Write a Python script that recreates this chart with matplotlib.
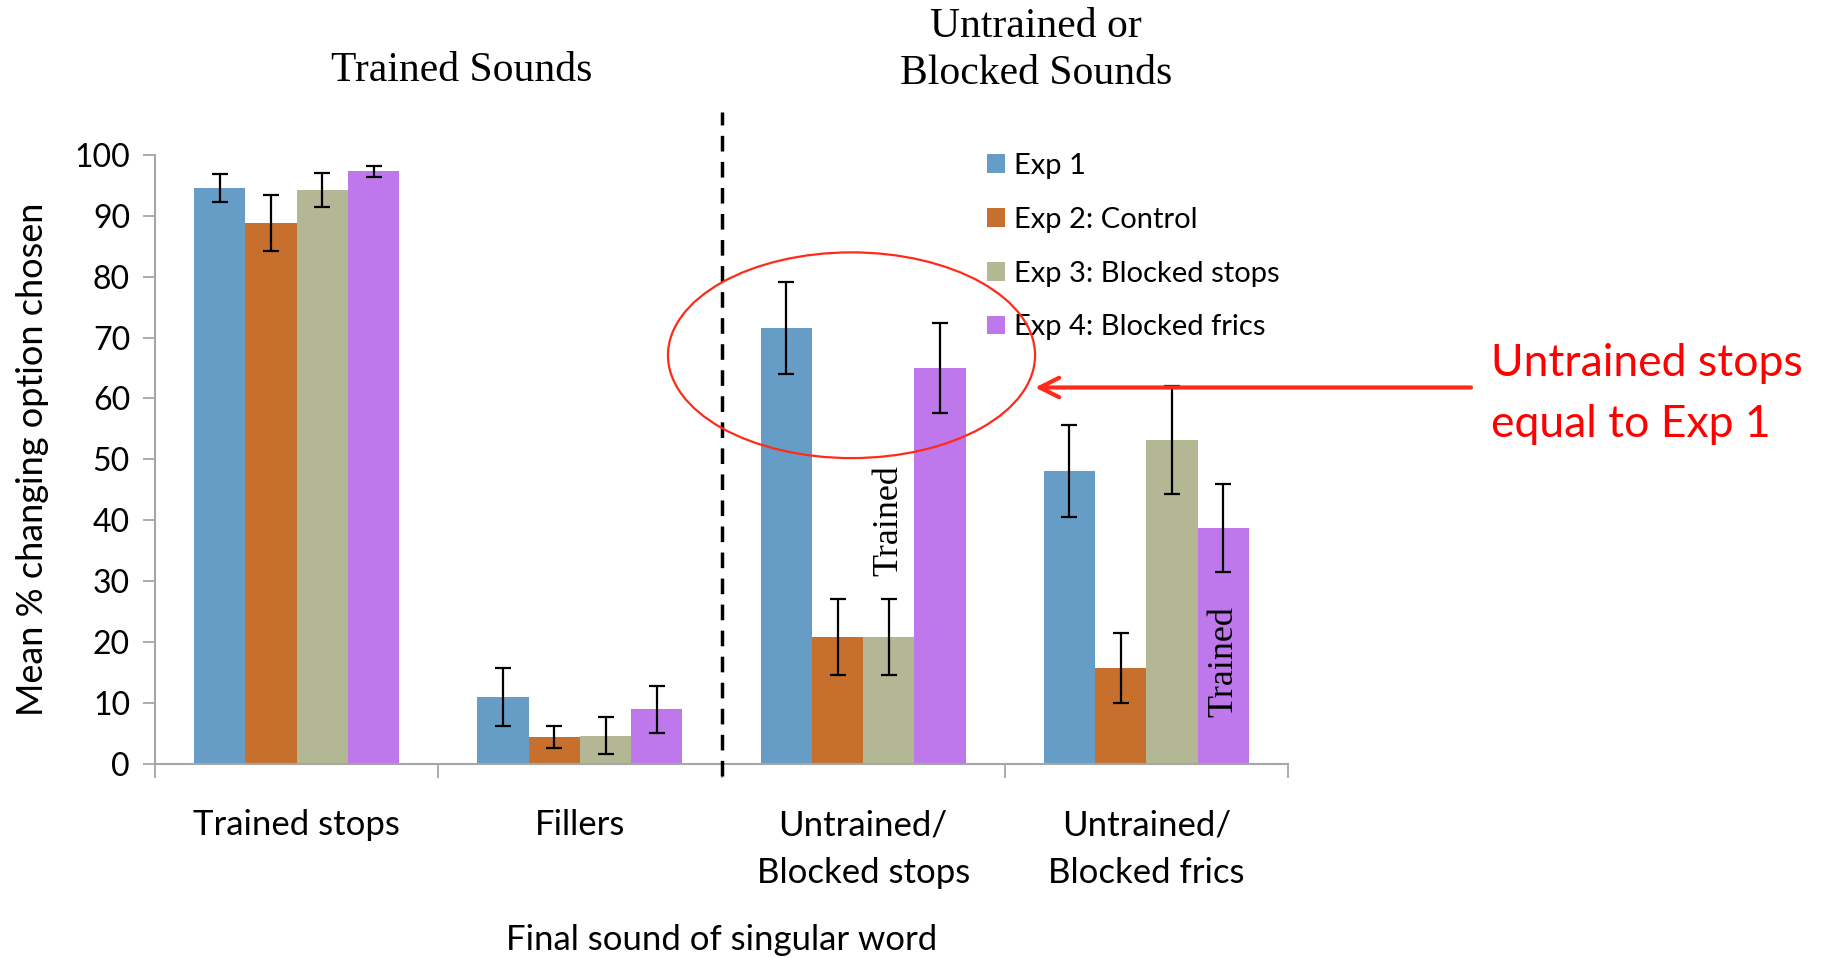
import matplotlib
matplotlib.use("Agg")
import matplotlib.pyplot as plt
import numpy as np
from matplotlib.patches import Ellipse, Patch

# ---- data ----
categories = ["Trained stops", "Fillers", "Untrained/\nBlocked stops", "Untrained/\nBlocked frics"]
series = ["Exp 1", "Exp 2: Control", "Exp 3: Blocked stops", "Exp 4: Blocked frics"]
exp1 = [94.6, 10.9, 71.6, 48.1]
exp2 = [88.9, 4.4, 20.8, 15.7]
exp3 = [94.3, 4.6, 20.8, 53.2]
exp4 = [97.3, 8.9, 65.0, 38.7]
exp1_err = [2.3, 4.8, 7.6, 7.6]
exp2_err = [4.6, 1.8, 6.3, 5.7]
exp3_err = [2.8, 3.0, 6.2, 8.9]
exp4_err = [0.9, 3.8, 7.4, 7.2]
yticks = list(range(0, 101, 10))

means = [exp1, exp2, exp3, exp4]
errs = [exp1_err, exp2_err, exp3_err, exp4_err]
colors = ["#669DC6", "#C76F2D", "#B3B793", "#BE78EB"]

plt.rcParams["font.family"] = ["Lato", "DejaVu Sans"]

fig = plt.figure(figsize=(18.28, 9.58), dpi=100)
ax = fig.add_axes([0.0848, 0.2029, 0.6198, 0.6353])

x = np.arange(len(categories))
bw = 0.181
offsets = (np.arange(4) - 1.5) * bw
for i in range(4):
    ax.bar(x + offsets[i], means[i], width=bw, color=colors[i], zorder=2)
    ax.errorbar(x + offsets[i], means[i], yerr=errs[i], fmt="none",
                ecolor="black", elinewidth=1.6, capsize=5.5, capthick=1.6, zorder=3)

ax.set_xlim(-0.5, 3.5)
ax.set_ylim(0, 100)
ax.set_yticks(yticks)
ax.set_yticklabels([str(t) for t in yticks], fontsize=23)
ax.set_xticks(x)
ax.set_xticklabels(categories, fontsize=25, linespacing=1.6)
ax.set_xticks(np.arange(-0.5, 3.6, 1.0), minor=True)
ax.tick_params(axis="x", which="major", length=0, pad=33)
ax.tick_params(axis="x", which="minor", length=10, width=1.3, color="#A6A6A6", direction="out")
ax.tick_params(axis="y", length=9, width=1.3, color="#A6A6A6", direction="out", pad=9)
for s in ["top", "right"]:
    ax.spines[s].set_visible(False)
for s in ["left", "bottom"]:
    ax.spines[s].set_color("#A6A6A6")
    ax.spines[s].set_linewidth(1.5)

ax.set_ylabel("Mean % changing option chosen", fontsize=26, labelpad=18)
ax.set_xlabel("Final sound of singular word", fontsize=25, labelpad=25)

# divider between trained and untrained sounds
ax.plot([1.5, 1.5], [-2, 107], color="black", lw=2.5, ls=(0, (4.5, 3)),
        clip_on=False, zorder=4)

# section headings
ax.text(0.584, 113.8, "Trained Sounds", ha="center", va="center",
        fontsize=30, family="Liberation Serif", clip_on=False)
ax.text(2.61, 117.2, "Untrained or\nBlocked Sounds", ha="center", va="center",
        fontsize=30, family="Liberation Serif", linespacing=1.3, clip_on=False)

# "Trained" markers over bars
ax.text(2.09, 39.9, "Trained", rotation=90, ha="center", va="center",
        fontsize=26, family="Liberation Serif", zorder=5)
ax.text(3.274, 16.7, "Trained", rotation=90, ha="center", va="center",
        fontsize=26, family="Liberation Serif", zorder=5)

# legend
handles = [Patch(facecolor=c, edgecolor="none") for c in colors]
leg = ax.legend(handles, series, loc="upper left", bbox_to_anchor=(2.437, 100.3),
                bbox_transform=ax.transData, frameon=False, fontsize=21,
                handlelength=0.62, handleheight=0.62, handletextpad=0.3,
                labelspacing=0.95, borderaxespad=0, borderpad=0)

# highlight around untrained stops
ell = Ellipse((1.959, 67.1), 1.296, 33.8, fill=False, edgecolor="#FF2A1A",
              lw=1.6, clip_on=False, zorder=6)
ax.add_patch(ell)
ax.annotate("", xy=(2.607, 61.8), xytext=(4.146, 61.8),
            arrowprops=dict(arrowstyle="->", color="#FF2A1A", lw=3,
                            mutation_scale=35, shrinkA=0, shrinkB=0),
            annotation_clip=False, zorder=6)
ax.text(4.217, 65.7, "Untrained stops", color="#FF0000", fontsize=32,
        ha="left", va="center", clip_on=False)
ax.text(4.217, 55.8, "equal to Exp 1", color="#FF0000", fontsize=32,
        ha="left", va="center", clip_on=False)

fig.savefig("out.png", dpi=100)
